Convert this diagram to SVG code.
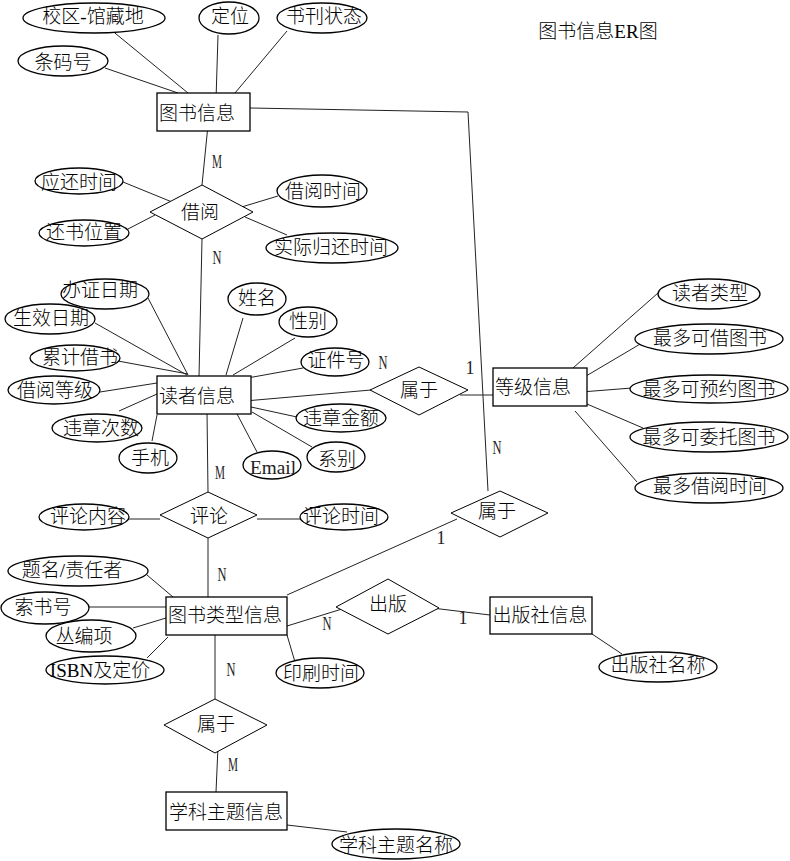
<svg xmlns="http://www.w3.org/2000/svg" width="790" height="861" viewBox="0 0 790 861">
  <style>
    .ent { fill: #fff; stroke: #000; stroke-width: 1.3; }
    .att { fill: #fff; stroke: #000; stroke-width: 1.3; }
    .rel { fill: #fff; stroke: #000; stroke-width: 1; }
    .lk { stroke: #222; stroke-width: 1; fill: none; }
    text { font-family: "Liberation Serif", "Noto Sans CJK SC", serif; font-size: 19px; font-weight: 300; fill: #000; text-anchor: middle; dominant-baseline: central; }
    .card { font-family: "Liberation Serif", serif; font-size: 18px; font-weight: normal; fill: #222; }
    .title { font-size: 19px; }
    .latin { font-family: "Liberation Serif", serif; font-weight: normal; fill: #222; }
  </style>
  <rect width="790" height="861" fill="#fff"/>

  <text class="title" x="598" y="31">图书信息ER图</text>

  <!-- connectors -->
  <g id="connectors">
    <!-- 图书信息 attributes -->
    <line class="lk" x1="110" y1="29" x2="188" y2="93"/>
    <line class="lk" x1="105" y1="68" x2="178" y2="93"/>
    <line class="lk" x1="218" y1="35" x2="216" y2="100"/>
    <line class="lk" x1="287" y1="31" x2="235" y2="93"/>
    <!-- 图书信息 to 属于(图书类型) -->
    <polyline class="lk" points="250,108 468,112 488,491"/>
    <!-- 图书信息 - 借阅 - 读者信息 -->
    <line class="lk" x1="208" y1="125" x2="202" y2="185"/>
    <line class="lk" x1="202" y1="239" x2="199" y2="377"/>
    <!-- 借阅 attributes -->
    <line class="lk" x1="123" y1="182" x2="172" y2="202"/>
    <line class="lk" x1="128" y1="229" x2="155" y2="215"/>
    <line class="lk" x1="235" y1="209" x2="278" y2="196"/>
    <line class="lk" x1="245" y1="217" x2="287" y2="235"/>
    <!-- 读者信息 attributes -->
    <line class="lk" x1="148" y1="298" x2="188" y2="375"/>
    <line class="lk" x1="95" y1="323" x2="187" y2="375"/>
    <line class="lk" x1="118" y1="361" x2="188" y2="374"/>
    <line class="lk" x1="100" y1="392" x2="157" y2="383"/>
    <line class="lk" x1="119" y1="411" x2="157" y2="394"/>
    <line class="lk" x1="152" y1="441" x2="157" y2="415"/>
    <line class="lk" x1="243" y1="318" x2="226" y2="375"/>
    <line class="lk" x1="295" y1="338" x2="233" y2="375"/>
    <line class="lk" x1="303" y1="368" x2="242" y2="379"/>
    <line class="lk" x1="251" y1="407" x2="297" y2="417"/>
    <line class="lk" x1="252" y1="412" x2="312" y2="447"/>
    <line class="lk" x1="236" y1="412" x2="257" y2="452"/>
    <!-- 读者信息 - 属于 - 等级信息 -->
    <line class="lk" x1="245" y1="401" x2="371" y2="390"/>
    <line class="lk" x1="460" y1="395" x2="493" y2="395"/>
    <!-- 等级信息 attributes -->
    <line class="lk" x1="565" y1="375" x2="658" y2="293"/>
    <line class="lk" x1="581" y1="379" x2="647" y2="340"/>
    <line class="lk" x1="581" y1="392" x2="632" y2="388"/>
    <line class="lk" x1="587" y1="404" x2="643" y2="428"/>
    <line class="lk" x1="575" y1="411" x2="637" y2="482"/>
    <!-- 读者信息 - 评论 - 图书类型信息 -->
    <line class="lk" x1="207" y1="412" x2="208" y2="492"/>
    <line class="lk" x1="208" y1="538" x2="208" y2="597"/>
    <line class="lk" x1="128" y1="519" x2="160" y2="519"/>
    <line class="lk" x1="257" y1="519" x2="300" y2="519"/>
    <!-- 图书类型信息 attributes -->
    <line class="lk" x1="147" y1="575" x2="173" y2="597"/>
    <line class="lk" x1="89" y1="607" x2="166" y2="607"/>
    <line class="lk" x1="133" y1="628" x2="166" y2="618"/>
    <line class="lk" x1="147" y1="658" x2="168" y2="637"/>
    <line class="lk" x1="287" y1="635" x2="295" y2="662"/>
    <!-- 图书类型信息 - 属于 -->
    <line class="lk" x1="287" y1="595" x2="457" y2="519"/>
    <!-- 图书类型信息 - 出版 - 出版社信息 -->
    <line class="lk" x1="287" y1="626" x2="342" y2="609"/>
    <line class="lk" x1="432" y1="608" x2="490" y2="615"/>
    <line class="lk" x1="592" y1="634" x2="622" y2="654"/>
    <!-- 图书类型信息 - 属于 - 学科主题信息 -->
    <line class="lk" x1="215" y1="627" x2="215" y2="699"/>
    <line class="lk" x1="218" y1="747" x2="216" y2="792"/>
    <line class="lk" x1="287" y1="825" x2="347" y2="832"/>
  </g>

  <!-- cardinalities (narrow glyphs) -->
  <g id="cardinalities">
    <text class="card" x="217" y="162" textLength="10" lengthAdjust="spacingAndGlyphs">M</text>
    <text class="card" x="217" y="258" textLength="9" lengthAdjust="spacingAndGlyphs">N</text>
    <text class="card" x="383" y="363" textLength="9" lengthAdjust="spacingAndGlyphs">N</text>
    <text class="card" x="470" y="368">1</text>
    <text class="card" x="497" y="448" textLength="9" lengthAdjust="spacingAndGlyphs">N</text>
    <text class="card" x="220" y="473" textLength="10" lengthAdjust="spacingAndGlyphs">M</text>
    <text class="card" x="222" y="575" textLength="9" lengthAdjust="spacingAndGlyphs">N</text>
    <text class="card" x="441" y="538">1</text>
    <text class="card" x="327" y="624" textLength="9" lengthAdjust="spacingAndGlyphs">N</text>
    <text class="card" x="463" y="618">1</text>
    <text class="card" x="231" y="670" textLength="9" lengthAdjust="spacingAndGlyphs">N</text>
    <text class="card" x="233" y="765" textLength="10" lengthAdjust="spacingAndGlyphs">M</text>
  </g>

  <!-- entities -->
  <g id="book">
    <rect class="ent" x="157" y="93" width="93" height="38"/>
    <text x="197" y="113">图书信息</text>
  </g>
  <g id="reader">
    <rect class="ent" x="157" y="376" width="94" height="38"/>
    <text x="197" y="396">读者信息</text>
  </g>
  <g id="level">
    <rect class="ent" x="493" y="368" width="94" height="38"/>
    <text x="533" y="387">等级信息</text>
  </g>
  <g id="booktype">
    <rect class="ent" x="166" y="597" width="121" height="38"/>
    <text x="225" y="615">图书类型信息</text>
  </g>
  <g id="publisher">
    <rect class="ent" x="490" y="597" width="102" height="37"/>
    <text x="540" y="615">出版社信息</text>
  </g>
  <g id="subject">
    <rect class="ent" x="166" y="792" width="121" height="38"/>
    <text x="226" y="812">学科主题信息</text>
  </g>

  <!-- relationships -->
  <g id="borrow">
    <polygon class="rel" points="150,212 202,185 253,212 202,239"/>
    <text x="200" y="212">借阅</text>
  </g>
  <g id="belong-level">
    <polygon class="rel" points="370,390 419,367 468,390 419,415"/>
    <text x="419" y="390">属于</text>
  </g>
  <g id="comment">
    <polygon class="rel" points="160,515 208,492 257,515 208,538"/>
    <text x="209" y="516">评论</text>
  </g>
  <g id="belong-book">
    <polygon class="rel" points="451,513 500,491 548,513 500,537"/>
    <text x="497" y="511">属于</text>
  </g>
  <g id="publish">
    <polygon class="rel" points="336,607 388,579 439,608 388,634"/>
    <text x="388" y="604">出版</text>
  </g>
  <g id="belong-subject">
    <polygon class="rel" points="164,725 215,699 267,725 215,753"/>
    <text x="216" y="724">属于</text>
  </g>

  <!-- attributes -->
  <g id="a-campus"><ellipse class="att" cx="94" cy="18" rx="71" ry="15"/><text x="93" y="16">校区-馆藏地</text></g>
  <g id="a-locate"><ellipse class="att" cx="229" cy="18" rx="30" ry="16"/><text x="230" y="16">定位</text></g>
  <g id="a-status"><ellipse class="att" cx="322" cy="18" rx="45" ry="15"/><text x="324" y="16">书刊状态</text></g>
  <g id="a-barcode"><ellipse class="att" cx="63" cy="61" rx="45" ry="15"/><text x="63" y="62">条码号</text></g>

  <g id="a-due"><ellipse class="att" cx="79" cy="181" rx="44" ry="13"/><text x="79" y="182">应还时间</text></g>
  <g id="a-returnpos"><ellipse class="att" cx="84" cy="233" rx="45" ry="13"/><text x="84" y="232">还书位置</text></g>
  <g id="a-borrowtime"><ellipse class="att" cx="322" cy="191" rx="45" ry="16"/><text x="323" y="191">借阅时间</text></g>
  <g id="a-actualreturn"><ellipse class="att" cx="332" cy="248" rx="66" ry="15"/><text x="331" y="247">实际归还时间</text></g>

  <g id="a-issue"><ellipse class="att" cx="105" cy="294" rx="44" ry="15"/><text x="100" y="290">办证日期</text></g>
  <g id="a-effective"><ellipse class="att" cx="50" cy="319" rx="45" ry="15"/><text x="51" y="318">生效日期</text></g>
  <g id="a-total"><ellipse class="att" cx="75" cy="358" rx="45" ry="13"/><text x="80" y="357">累计借书</text></g>
  <g id="a-grade"><ellipse class="att" cx="54" cy="390" rx="46" ry="14"/><text x="55" y="390">借阅等级</text></g>
  <g id="a-violcount"><ellipse class="att" cx="97" cy="428" rx="45" ry="14"/><text x="101" y="428">违章次数</text></g>
  <g id="a-phone"><ellipse class="att" cx="148" cy="458" rx="29" ry="15"/><text x="150" y="458">手机</text></g>
  <g id="a-name"><ellipse class="att" cx="257" cy="299" rx="29" ry="16"/><text x="257" y="298">姓名</text></g>
  <g id="a-gender"><ellipse class="att" cx="308" cy="322" rx="29" ry="15"/><text x="308" y="321">性别</text></g>
  <g id="a-idno"><ellipse class="att" cx="335" cy="362" rx="34" ry="14"/><text x="336" y="360">证件号</text></g>
  <g id="a-violamt"><ellipse class="att" cx="341" cy="418" rx="45" ry="14"/><text x="341" y="418">违章金额</text></g>
  <g id="a-dept"><ellipse class="att" cx="336" cy="457" rx="29" ry="15"/><text x="337" y="459">系别</text></g>
  <g id="a-email"><ellipse class="att" cx="272" cy="465" rx="29" ry="14"/><text class="latin" x="273" y="467" textLength="46" lengthAdjust="spacingAndGlyphs">Email</text></g>

  <g id="a-readertype"><ellipse class="att" cx="709" cy="294" rx="51" ry="15"/><text x="710" y="293">读者类型</text></g>
  <g id="a-maxborrow"><ellipse class="att" cx="709" cy="339" rx="74" ry="15"/><text x="710" y="338">最多可借图书</text></g>
  <g id="a-maxreserve"><ellipse class="att" cx="709" cy="389" rx="79" ry="14"/><text x="709" y="389">最多可预约图书</text></g>
  <g id="a-maxentrust"><ellipse class="att" cx="709" cy="437" rx="79" ry="15"/><text x="709" y="437">最多可委托图书</text></g>
  <g id="a-maxtime"><ellipse class="att" cx="709" cy="488" rx="74" ry="15"/><text x="710" y="486">最多借阅时间</text></g>

  <g id="a-content"><ellipse class="att" cx="84" cy="517" rx="45" ry="13"/><text x="88" y="516">评论内容</text></g>
  <g id="a-commenttime"><ellipse class="att" cx="344" cy="517" rx="44" ry="13"/><text x="341" y="516">评论时间</text></g>

  <g id="a-title"><ellipse class="att" cx="78" cy="571" rx="70" ry="15"/><text x="72" y="570">题名/责任者</text></g>
  <g id="a-callno"><ellipse class="att" cx="45" cy="608" rx="44" ry="16"/><text x="43" y="607">索书号</text></g>
  <g id="a-series"><ellipse class="att" cx="91" cy="636" rx="45" ry="16"/><text x="84" y="636">丛编项</text></g>
  <g id="a-isbn"><ellipse class="att" cx="105" cy="670" rx="59" ry="14"/><text x="100" y="670">ISBN及定价</text></g>
  <g id="a-printtime"><ellipse class="att" cx="320" cy="673" rx="44" ry="15"/><text x="321" y="673">印刷时间</text></g>

  <g id="a-pubname"><ellipse class="att" cx="658" cy="667" rx="59" ry="15"/><text x="658" y="665">出版社名称</text></g>
  <g id="a-subjectname"><ellipse class="att" cx="396" cy="844" rx="64" ry="15"/><text x="396" y="845">学科主题名称</text></g>
</svg>
